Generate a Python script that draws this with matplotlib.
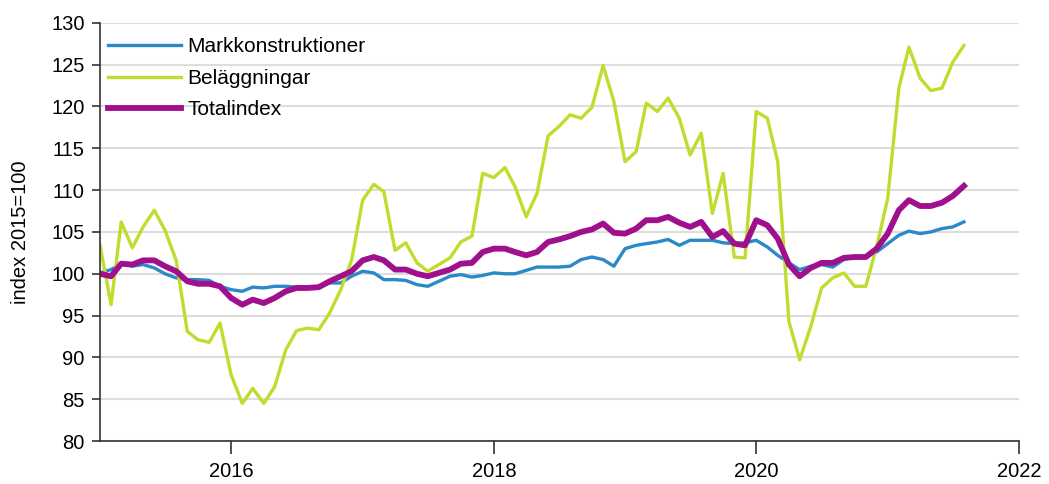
import pandas as pd
import matplotlib
matplotlib.use("Agg")
from matplotlib import pyplot as plt
import matplotlib.dates as mdates

plt.rcParams['font.family'] = ['Liberation Sans', 'DejaVu Sans']

months = pd.date_range('2015-01-01', periods=80, freq='MS')

markkonstruktioner = [
    100.1, 100.5, 101.2, 100.9, 101.1, 100.7, 100.0, 99.5, 99.3, 99.3, 99.2, 98.5,
    98.1, 97.9, 98.4, 98.3, 98.5, 98.5, 98.4, 98.4, 98.4, 98.9, 98.9, 99.7,
    100.3, 100.1, 99.3, 99.3, 99.2, 98.7, 98.5, 99.1, 99.7, 99.9, 99.6, 99.8,
    100.1, 100.0, 100.0, 100.4, 100.8, 100.8, 100.8, 100.9, 101.7, 102.0, 101.7, 100.9,
    103.0, 103.4, 103.6, 103.8, 104.1, 103.4, 104.0, 104.0, 104.0, 103.7, 103.6, 103.7,
    104.0, 103.2, 102.2, 101.3, 100.5, 100.9, 101.1, 100.8, 101.7, 102.0, 102.1, 102.6,
    103.6, 104.6, 105.1, 104.8, 105.0, 105.4, 105.6, 106.2,
]

belaggningar = [
    103.4, 96.3, 106.2, 103.1, 105.6, 107.6, 105.2, 101.6, 93.1, 92.1, 91.8, 94.1,
    87.9, 84.5, 86.3, 84.5, 86.5, 90.9, 93.2, 93.5, 93.3, 95.3, 98.1, 101.6,
    108.8, 110.7, 109.8, 102.8, 103.7, 101.3, 100.3, 101.1, 101.9, 103.8, 104.5, 112.0,
    111.5, 112.7, 110.4, 106.8, 109.6, 116.5, 117.6, 119.0, 118.6, 119.9, 124.9, 120.6,
    113.4, 114.6, 120.4, 119.4, 121.0, 118.6, 114.2, 116.8, 107.2, 112.0, 102.0, 101.9,
    119.4, 118.6, 113.4, 94.3, 89.7, 93.7, 98.3, 99.5, 100.1, 98.5, 98.5, 103.2,
    109.0, 122.2, 127.1, 123.4, 121.9, 122.2, 125.3, 127.3,
]

totalindex = [
    100.0, 99.7, 101.2, 101.1, 101.6, 101.6, 100.9, 100.3, 99.1, 98.8, 98.8, 98.5,
    97.1, 96.3, 96.9, 96.5, 97.1, 97.9, 98.3, 98.3, 98.4, 99.1, 99.7, 100.3,
    101.6, 102.0, 101.6, 100.5, 100.5, 100.0, 99.7, 100.1, 100.5, 101.2, 101.3, 102.6,
    103.0, 103.0, 102.6, 102.2, 102.6, 103.8, 104.1, 104.5, 105.0, 105.3, 106.0, 104.9,
    104.8, 105.4, 106.4, 106.4, 106.8, 106.1, 105.6, 106.2, 104.4, 105.1, 103.6, 103.4,
    106.4, 105.8, 104.2, 101.1, 99.7, 100.7, 101.3, 101.3, 101.9, 102.0, 102.0, 103.0,
    104.8, 107.6, 108.8, 108.1, 108.1, 108.5, 109.3, 110.5,
]

fig = plt.figure(figsize=(10.49, 4.84), dpi=100)
ax = fig.add_axes([0.0953, 0.0888, 0.876, 0.864])

ax.plot(months, markkonstruktioner, color='#2a8ac8', lw=2.4, label='Markkonstruktioner')
ax.plot(months, belaggningar, color='#c0dc2c', lw=2.4, label='Beläggningar')
ax.plot(months, totalindex, color='#a0108c', lw=4.2, label='Totalindex')

ax.set_ylim(80, 130)
ax.set_yticks(range(80, 131, 5))
ax.set_xlim(pd.Timestamp('2015-01-01'), pd.Timestamp('2022-01-01'))
ax.xaxis.set_major_locator(mdates.YearLocator(2))
ax.xaxis.set_major_formatter(mdates.DateFormatter('%Y'))

ax.grid(axis='y', color='#dddddd', lw=1.5)
ax.set_axisbelow(True)
for s in ['top', 'right']:
    ax.spines[s].set_visible(False)
for s in ['left', 'bottom']:
    ax.spines[s].set_color('#333333')
    ax.spines[s].set_linewidth(1.2)

ax.tick_params(axis='y', length=6, width=1.2, color='#333333', labelsize=14.5, pad=5)
ax.tick_params(axis='x', length=9, width=1.2, color='#333333', labelsize=14.5, pad=6)
ax.set_ylabel('index 2015=100', fontsize=14.5, labelpad=15)

ax.legend(loc='upper left', bbox_to_anchor=(0.0, 0.985), frameon=False, fontsize=15,
          handlelength=3.5, handletextpad=0.3, labelspacing=0.6,
          borderaxespad=0, borderpad=0.4)

fig.savefig('out.png', dpi=100)
